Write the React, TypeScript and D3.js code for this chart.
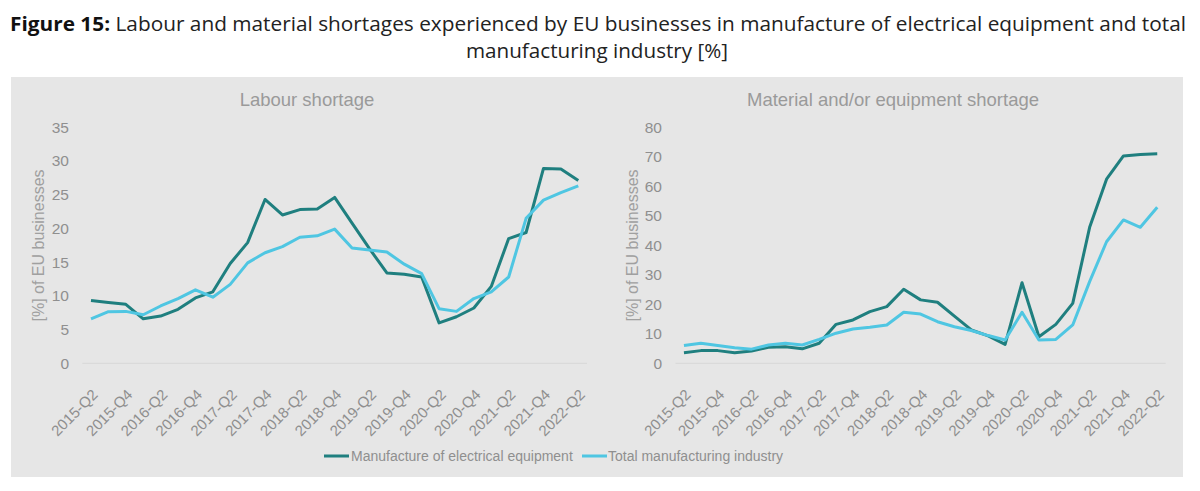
import React from "react";
import * as d3 from "d3";

const quarters = [
  "2015-Q2", "2015-Q3", "2015-Q4", "2016-Q1", "2016-Q2", "2016-Q3", "2016-Q4", "2017-Q1",
  "2017-Q2", "2017-Q3", "2017-Q4", "2018-Q1", "2018-Q2", "2018-Q3", "2018-Q4", "2019-Q1",
  "2019-Q2", "2019-Q3", "2019-Q4", "2020-Q1", "2020-Q2", "2020-Q3", "2020-Q4", "2021-Q1",
  "2021-Q2", "2021-Q3", "2021-Q4", "2022-Q1", "2022-Q2",
];

const labourElectrical = [9.3, 9.0, 8.75, 6.6, 7.0, 8.0, 9.7, 10.6, 14.8, 17.9, 24.3, 22.0, 22.8, 22.9, 24.6, 20.8, 17.0, 13.4, 13.2, 12.8, 6.0, 6.9, 8.2, 11.4, 18.5, 19.4, 28.9, 28.8, 27.1];
const labourTotal = [6.6, 7.65, 7.7, 7.2, 8.5, 9.6, 10.9, 9.8, 11.7, 14.9, 16.4, 17.3, 18.7, 18.9, 19.9, 17.1, 16.8, 16.5, 14.7, 13.3, 8.1, 7.7, 9.6, 10.6, 12.8, 21.5, 24.2, 25.3, 26.3];

const materialElectrical = [3.6, 4.3, 4.3, 3.6, 4.2, 5.4, 5.6, 4.9, 6.8, 13.2, 14.7, 17.5, 19.2, 25.1, 21.5, 20.7, 16.0, 11.3, 9.3, 6.4, 27.3, 9.0, 13.2, 20.3, 46.1, 62.4, 70.3, 70.8, 71.0];
const materialTotal = [6.0, 6.8, 6.0, 5.3, 4.8, 6.2, 6.8, 6.2, 8.1, 10.2, 11.6, 12.2, 13.0, 17.3, 16.7, 14.1, 12.4, 11.1, 9.4, 7.9, 17.3, 7.9, 8.1, 13.0, 27.7, 41.2, 48.6, 46.1, 52.9];

const labourTicks = [0, 5, 10, 15, 20, 25, 30, 35];
const materialTicks = [0, 10, 20, 30, 40, 50, 60, 70, 80];

const seriesNames = ["Manufacture of electrical equipment", "Total manufacturing industry"];
const DARK = "#1f7f7f";
const LIGHT = "#4fc6e2";
const GREY = "#8f8f8f";
const FONT = "Liberation Sans, Arial, sans-serif";

const W = 1200;
const H = 491;
const TOP = 127.3;
const BOTTOM = 363.3;

interface PanelProps {
  title: string;
  titleX: number;
  x0: number;
  x1: number;
  yMax: number;
  ticks: number[];
  elec: number[];
  total: number[];
  axisTitleX: number;
  tickX: number;
}

const Panel = ({ title, titleX, x0, x1, yMax, ticks, elec, total, axisTitleX, tickX }: PanelProps) => {
  const x = d3.scalePoint<string>().domain(quarters).range([x0, x1]).padding(0.5);
  const y = d3.scaleLinear().domain([0, yMax]).range([BOTTOM, TOP]);
  const line = d3
    .line<number>()
    .x((_, i) => x(quarters[i]) as number)
    .y((d) => y(d));

  return (
    <g>
      <text x={titleX} y={106} textAnchor="middle" fontSize={18.5} fill="#9a9a9a" fontFamily={FONT}>
        {title}
      </text>
      <line x1={x0} x2={x1} y1={y(0)} y2={y(0)} stroke="#d8d8d8" strokeWidth={1} />
      {ticks.map((t) => (
        <text key={t} x={tickX} y={y(t)} dy="0.35em" textAnchor="end" fontSize={15.5} fill={GREY} fontFamily={FONT}>
          {t}
        </text>
      ))}
      <text
        transform={`translate(${axisTitleX},245.5) rotate(-90)`}
        textAnchor="middle"
        dy="0.35em"
        fontSize={16}
        fill="#a0a0a0"
        fontFamily={FONT}
      >
        [%] of EU businesses
      </text>
      {quarters
        .filter((_, i) => i % 2 === 0)
        .map((q) => (
          <text
            key={q}
            transform={`translate(${(x(q) as number) + 4},392) rotate(-45)`}
            textAnchor="end"
            dy="0.35em"
            fontSize={15}
            fill={GREY}
            fontFamily={FONT}
          >
            {q}
          </text>
        ))}
      <path d={line(elec) || ""} fill="none" stroke={DARK} strokeWidth={3} strokeLinejoin="round" />
      <path d={line(total) || ""} fill="none" stroke={LIGHT} strokeWidth={3} strokeLinejoin="round" />
    </g>
  );
};

export default function App() {
  return (
    <svg width={W} height={H} style={{ position: "absolute", left: 0, top: 0, background: "#fff" }}>
      <text x={598} y={31} textAnchor="middle" fontSize={20} fill="#222" fontFamily="Open Sans, sans-serif" textLength={1176} lengthAdjust="spacingAndGlyphs">
        <tspan fontWeight="bold" fill="#111">Figure 15:</tspan>
        <tspan> Labour and material shortages experienced by EU businesses in manufacture of electrical equipment and total</tspan>
      </text>
      <text x={597} y={58} textAnchor="middle" fontSize={20} fill="#222" fontFamily="Open Sans, sans-serif" textLength={262} lengthAdjust="spacingAndGlyphs">
        manufacturing industry [%]
      </text>
      <rect x={11} y={77} width={1172} height={400} fill="#e6e6e6" />
      <Panel
        title="Labour shortage"
        titleX={307}
        x0={82.3}
        x1={587}
        yMax={35}
        ticks={labourTicks}
        elec={labourElectrical}
        total={labourTotal}
        axisTitleX={38}
        tickX={69}
      />
      <Panel
        title="Material and/or equipment shortage"
        titleX={893}
        x0={675.5}
        x1={1165.7}
        yMax={80}
        ticks={materialTicks}
        elec={materialElectrical}
        total={materialTotal}
        axisTitleX={632}
        tickX={662}
      />
      <g fontFamily={FONT} fontSize={14} fill={GREY}>
        <line x1={324} x2={349} y1={456} y2={456} stroke={DARK} strokeWidth={3} />
        <text x={351} y={456} dy="0.35em">{seriesNames[0]}</text>
        <line x1={582} x2={607} y1={456} y2={456} stroke={LIGHT} strokeWidth={3} />
        <text x={608} y={456} dy="0.35em">{seriesNames[1]}</text>
      </g>
    </svg>
  );
}
